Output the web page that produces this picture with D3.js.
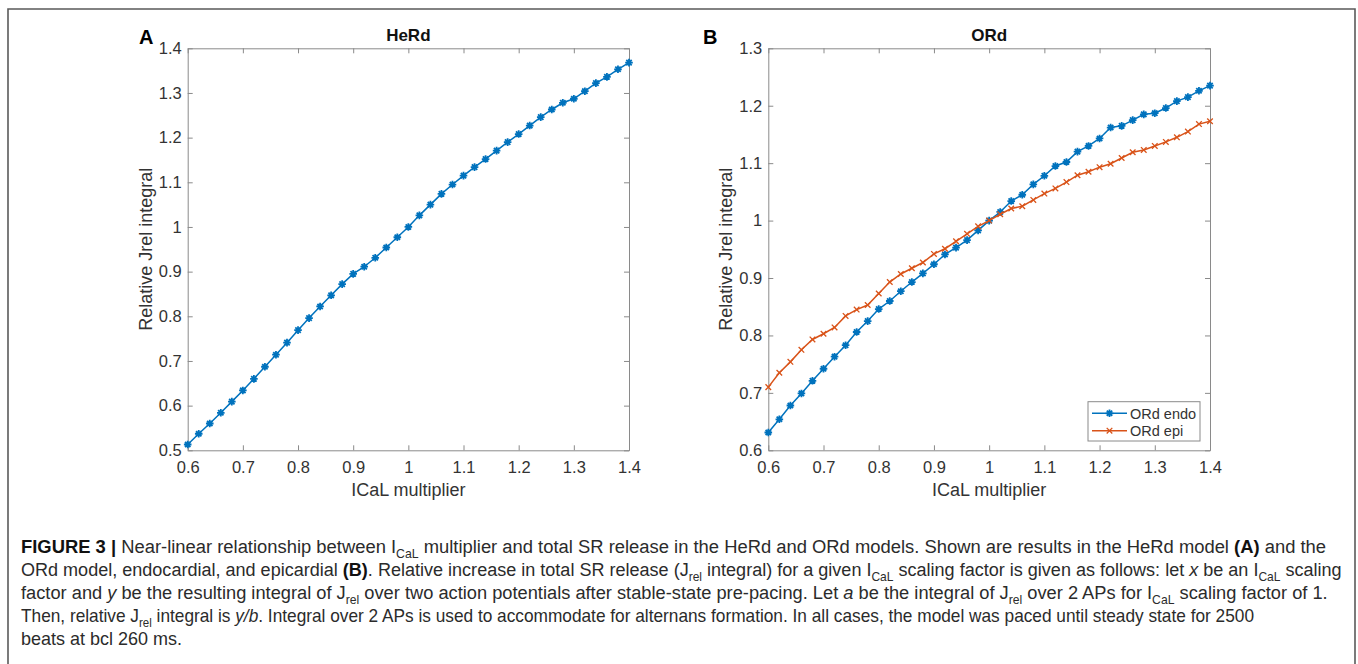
<!DOCTYPE html>
<html><head><meta charset="utf-8">
<script src="https://cdn.jsdelivr.net/npm/d3@7"></script>
<style>body{margin:0;background:#fff} svg{display:block}</style>
</head><body><svg id="fig" width="1358" height="664"></svg>
<script>
// ---------- data ----------
const multipliers = [0.60,0.62,0.64,0.66,0.68,0.70,0.72,0.74,0.76,0.78,0.80,0.82,0.84,0.86,0.88,0.90,0.92,0.94,0.96,0.98,1.00,1.02,1.04,1.06,1.08,1.10,1.12,1.14,1.16,1.18,1.20,1.22,1.24,1.26,1.28,1.30,1.32,1.34,1.36,1.38,1.40];
const herd = [0.513,0.537,0.560,0.584,0.609,0.634,0.660,0.687,0.714,0.741,0.769,0.796,0.822,0.847,0.872,0.895,0.911,0.931,0.954,0.977,1.000,1.026,1.050,1.074,1.095,1.115,1.134,1.152,1.171,1.190,1.208,1.227,1.246,1.263,1.278,1.287,1.304,1.322,1.336,1.353,1.368];
const ordEndo = [0.631,0.654,0.678,0.699,0.721,0.742,0.763,0.783,0.806,0.825,0.846,0.860,0.877,0.893,0.908,0.924,0.941,0.953,0.966,0.983,1.000,1.015,1.034,1.045,1.063,1.078,1.095,1.102,1.120,1.130,1.143,1.162,1.165,1.175,1.185,1.187,1.196,1.208,1.215,1.226,1.235];
const ordEpi = [0.710,0.735,0.754,0.775,0.793,0.803,0.814,0.834,0.845,0.853,0.873,0.893,0.907,0.917,0.927,0.942,0.951,0.964,0.977,0.990,1.000,1.011,1.021,1.025,1.036,1.047,1.056,1.067,1.079,1.085,1.093,1.099,1.109,1.119,1.123,1.130,1.137,1.145,1.155,1.168,1.173];
const xTickValues = [0.6,0.7,0.8,0.9,1.0,1.1,1.2,1.3,1.4];
const xTickLabels = ["0.6","0.7","0.8","0.9","1","1.1","1.2","1.3","1.4"];
const yTickValuesA = [0.5,0.6,0.7,0.8,0.9,1.0,1.1,1.2,1.3,1.4];
const yTickLabelsA = ["0.5","0.6","0.7","0.8","0.9","1","1.1","1.2","1.3","1.4"];
const yTickValuesB = [0.6,0.7,0.8,0.9,1.0,1.1,1.2,1.3];
const yTickLabelsB = ["0.6","0.7","0.8","0.9","1","1.1","1.2","1.3"];
const legendLabels = ["ORd endo","ORd epi"];

// ---------- styles ----------
const BLUE = "#0072BD", ORANGE = "#D95319";
const AXC = "#8a8a8a", TXC = "#333333";
const FONT = "'Liberation Sans', Arial, Helvetica, sans-serif";

const svg = d3.select("#fig");

// outer frame
svg.append("path")
  .attr("d", "M8,664 L8,9 L1355,9 L1355,664")
  .attr("fill","none").attr("stroke","#5a5a5a").attr("stroke-width",1.6);

function asteriskPath(r){
  const d = r*0.7071;
  return `M${-r},0L${r},0M0,${-r}L0,${r}M${-d},${-d}L${d},${d}M${-d},${d}L${d},${-d}`;
}
function xPath(r){
  return `M${-r},${-r}L${r},${r}M${-r},${r}L${r},${-r}`;
}

function panel(opts){
  const {left,right,top,bottom,yDomain,yTicks,yLabels,title,letter,letterX,ylabX,series} = opts;
  const x = d3.scaleLinear().domain([0.6,1.4]).range([left,right]);
  const y = d3.scaleLinear().domain(yDomain).range([bottom,top]);
  const g = svg.append("g");
  const fmtX = (d,i)=>xTickLabels[i];
  const fmtY = (d,i)=>yLabels[i];

  const ax = (sel)=>{
    sel.selectAll(".domain").attr("stroke",AXC).attr("stroke-width",1);
    sel.selectAll(".tick line").attr("stroke",AXC).attr("stroke-width",1);
    sel.selectAll(".tick text").attr("fill",TXC).style("font-family",FONT).style("font-size","16.5px");
  };
  g.append("g").attr("transform",`translate(0,${bottom})`)
    .call(d3.axisBottom(x).tickValues(xTickValues).tickFormat(fmtX).tickSize(-5).tickSizeOuter(0).tickPadding(11)).call(ax);
  g.append("g").attr("transform",`translate(0,${top})`)
    .call(d3.axisTop(x).tickValues(xTickValues).tickFormat("").tickSize(-5).tickSizeOuter(0)).call(ax);
  g.append("g").attr("transform",`translate(${left},0)`)
    .call(d3.axisLeft(y).tickValues(yTicks).tickFormat(fmtY).tickSize(-5).tickSizeOuter(0).tickPadding(6)).call(ax);
  g.append("g").attr("transform",`translate(${right},0)`)
    .call(d3.axisRight(y).tickValues(yTicks).tickFormat("").tickSize(-5).tickSizeOuter(0)).call(ax);

  // titles / labels
  g.append("text").attr("x",(left+right)/2).attr("y",41).attr("text-anchor","middle")
    .style("font-family",FONT).style("font-size","17px").style("font-weight","bold").attr("fill","#111").text(title);
  g.append("text").attr("x",letterX).attr("y",44)
    .style("font-family",FONT).style("font-size","20px").style("font-weight","bold").attr("fill","#000").text(letter);
  g.append("text").attr("x",(left+right)/2).attr("y",496).attr("text-anchor","middle")
    .style("font-family",FONT).style("font-size","18px").attr("fill",TXC).text("ICaL multiplier");
  g.append("text").attr("transform",`translate(${ylabX},${(top+bottom)/2}) rotate(-90)`).attr("text-anchor","middle")
    .style("font-family",FONT).style("font-size","18px").attr("fill",TXC).text("Relative Jrel integral");

  const line = d3.line().x((d,i)=>x(multipliers[i])).y(d=>y(d));
  series.forEach(s=>{
    g.append("path").datum(s.values).attr("d",line).attr("fill","none")
      .attr("stroke",s.color).attr("stroke-width",1.5);
    g.append("g").selectAll("path").data(s.values).join("path")
      .attr("transform",(d,i)=>`translate(${x(multipliers[i])},${y(d)})`)
      .attr("d", s.marker==="star" ? asteriskPath(3.8) : xPath(2.8))
      .attr("fill","none").attr("stroke",s.color).attr("stroke-width", s.marker==="star"?1.8:1.3);
  });
  return {x,y,g};
}

panel({left:187.7,right:629,top:48.3,bottom:450.3,yDomain:[0.5,1.4],yTicks:yTickValuesA,yLabels:yTickLabelsA,
  title:"HeRd",letter:"A",letterX:139,ylabX:152,series:[{values:herd,color:BLUE,marker:"star"}]});
const pB = panel({left:768.3,right:1210,top:48.3,bottom:450.3,yDomain:[0.6,1.3],yTicks:yTickValuesB,yLabels:yTickLabelsB,
  title:"ORd",letter:"B",letterX:703,ylabX:732,series:[{values:ordEndo,color:BLUE,marker:"star"},{values:ordEpi,color:ORANGE,marker:"x"}]});

// legend
const lg = pB.g.append("g");
lg.append("rect").attr("x",1088).attr("y",401.7).attr("width",112).attr("height",39.3)
  .attr("fill","#fff").attr("stroke",AXC).attr("stroke-width",1);
[[BLUE,"star"],[ORANGE,"x"]].forEach(([c,m],i)=>{
  const yy = 413.3 + i*17.4;
  lg.append("line").attr("x1",1092).attr("x2",1127).attr("y1",yy).attr("y2",yy).attr("stroke",c).attr("stroke-width",1.5);
  lg.append("path").attr("transform",`translate(1109.5,${yy})`).attr("d", m==="star"?asteriskPath(3.8):xPath(2.8))
    .attr("fill","none").attr("stroke",c).attr("stroke-width", m==="star"?1.8:1.3);
  lg.append("text").attr("x",1130).attr("y",yy+5.2).style("font-family",FONT).style("font-size","14.5px")
    .attr("fill",TXC).text(legendLabels[i]);
});

// caption
const CAPFONT = "'Liberation Sans', Arial, sans-serif";
const caption = [
  {y:553, end:1327, segs:[["b","FIGURE 3 | "],["n","Near-linear relationship between I"],["s","CaL"],["n"," multiplier and total SR release in the HeRd and ORd models. Shown are results in the HeRd model "],["b","(A)"],["n"," and the"]]},
  {y:576, end:1342, segs:[["n","ORd model, endocardial, and epicardial "],["b","(B)"],["n",". Relative increase in total SR release (J"],["s","rel"],["n"," integral) for a given I"],["s","CaL"],["n"," scaling factor is given as follows: let "],["i","x"],["n"," be an I"],["s","CaL"],["n"," scaling"]]},
  {y:599, end:1328, segs:[["n","factor and "],["i","y"],["n"," be the resulting integral of J"],["s","rel"],["n"," over two action potentials after stable-state pre-pacing. Let "],["i","a"],["n"," be the integral of J"],["s","rel"],["n"," over 2 APs for I"],["s","CaL"],["n"," scaling factor of 1."]]},
  {y:622, end:1255, segs:[["n","Then, relative J"],["s","rel"],["n"," integral is "],["i","y/b"],["n",". Integral over 2 APs is used to accommodate for alternans formation. In all cases, the model was paced until steady state for 2500"]]},
  {y:645, end:null, segs:[["n","beats at bcl 260 ms."]]}
];
const CAPX = 21;
const scales = [];
const nodes = caption.map(L=>{
  const t = svg.append("text").attr("x",0).attr("y",0)
    .style("font-family",CAPFONT).style("font-size","18px").attr("fill","#2b2b2b");
  let shifted = false;
  L.segs.forEach(([k,txt])=>{
    const sp = t.append("tspan").text(txt);
    if(k==="b") sp.style("font-weight","bold").attr("fill","#111");
    if(k==="i") sp.style("font-style","italic");
    if(k==="s"){ sp.style("font-size","12px").attr("dy",4.5); shifted = true; }
    else if(shifted){ sp.attr("dy",-4.5); shifted = false; }
  });
  let sx = null;
  if(L.end){ const w = t.node().getComputedTextLength(); sx = (L.end-CAPX)/w; scales.push(sx); }
  return {t,L,sx};
});
const meanScale = d3.mean(scales);
nodes.forEach(({t,L,sx})=>{
  t.attr("transform",`translate(${CAPX},${L.y}) scale(${sx==null?meanScale:sx},1)`);
});
</script>
</body></html>
